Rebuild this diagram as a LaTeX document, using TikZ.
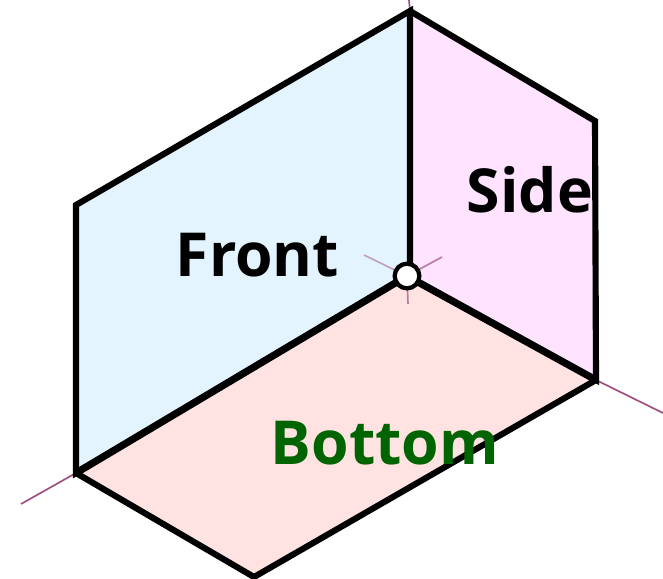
\documentclass[tikz,border=0pt]{standalone}
\usepackage{fontspec}
\setmainfont{Open Sans}
\definecolor{axiscol}{HTML}{9E4F7E}
\definecolor{frontcol}{HTML}{E3F4FF}
\definecolor{sidecol}{HTML}{FFE3FF}
\definecolor{bottomcol}{HTML}{FFE3E3}
\definecolor{greenlabel}{HTML}{006400}
\tikzset{
  x=0.75pt,y=-0.75pt,
  face/.style={line width=4.6pt,draw=black,line join=miter},
  spoke/.style={line width=5.4pt,draw=black},
  axisline/.style={line width=1.25pt,draw=axiscol},
  facelabel/.style={font=\bfseries\fontsize{45.5}{50}\selectfont,inner sep=0pt,anchor=base},
  hub/.style={circle,draw=black,fill=white,line width=3.2pt,minimum size=18.5pt,inner sep=0pt}
}
\begin{document}
\begin{tikzpicture}
\useasboundingbox (0,0) rectangle (663,578);
\clip (0,0) rectangle (663,578);
\coordinate (O) at (407,276);
\coordinate (OV) at (410,272);
\coordinate (T) at (410,11);
\coordinate (LT) at (76,205);
\coordinate (LB) at (76,473);
\coordinate (B) at (254,577);
\coordinate (RB) at (596,380);
\coordinate (RT) at (595,121);
\coordinate (a1) at (409,0);
\coordinate (a2) at (21,504);
\coordinate (a3) at (663,413);
\coordinate (i1) at (364,255);
\coordinate (i2) at (442,257);
\coordinate (i3) at (408,304);
\draw[axisline] (T) -- (a1);
\draw[axisline] (LB) -- (a2);
\draw[axisline] (RB) -- (a3);
\fill[frontcol] (O) -- (OV) -- (T) -- (LT) -- (LB) -- cycle;
\fill[sidecol] (O) -- (OV) -- (T) -- (RT) -- (RB) -- cycle;
\fill[bottomcol] (O) -- (LB) -- (B) -- (RB) -- cycle;
\draw[axisline,draw=axiscol!50!frontcol] (O) -- (i1);
\draw[axisline,draw=axiscol!70!sidecol] (O) -- (i2);
\draw[axisline,draw=axiscol!70!bottomcol] (O) -- (i3);
\draw[face] (OV) -- (T) -- (LT) -- (LB) -- (O);
\draw[face] (T) -- (RT) -- (RB) -- (O);
\draw[face] (LB) -- (B) -- (RB);
\draw[spoke] (O) -- (LB);
\draw[spoke] (O) -- (RB);
\node[hub] (hub) at (O) {};
\node[facelabel] (front) at (257.5,276) {Front};
\node[facelabel] (side) at (530,212) {Side};
\node[facelabel,text=greenlabel] (bottom) at (385,464) {Bottom};
\end{tikzpicture}
\end{document}
